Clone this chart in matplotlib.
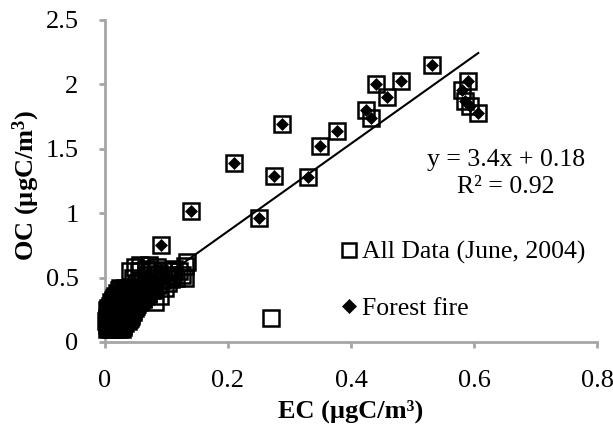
import matplotlib
matplotlib.use("Agg")
import matplotlib.pyplot as plt
import numpy as np

plt.rcParams['font.family'] = ['Liberation Serif', 'DejaVu Serif']
plt.rcParams['mathtext.fontset'] = 'custom'
plt.rcParams['mathtext.rm'] = 'Liberation Serif'
plt.rcParams['mathtext.bf'] = 'Liberation Serif:bold'

# Forest fire events (EC, OC)
fire_ec = [0.091, 0.140, 0.210, 0.250, 0.275, 0.288, 0.330, 0.350, 0.378,
           0.425, 0.432, 0.440, 0.458, 0.482, 0.532, 0.580, 0.591, 0.586,
           0.594, 0.606]
fire_oc = [0.75, 1.02, 1.39, 0.96, 1.29, 1.69, 1.28, 1.52, 1.64,
           1.80, 1.74, 2.00, 1.90, 2.03, 2.15, 1.96, 2.03, 1.87,
           1.83, 1.78]

# Low-concentration samples (dense cluster near the origin), part 1
low_ec = [0.003, 0.008, 0.013, 0.018, 0.022, 0.027,
          0.004, 0.009, 0.014, 0.019, 0.024, 0.029,
          0.002, 0.006, 0.011, 0.016, 0.021, 0.026, 0.031, 0.037,
          0.003, 0.008, 0.013, 0.018, 0.023, 0.028, 0.034, 0.040,
          0.005, 0.010, 0.015, 0.020, 0.025, 0.030, 0.036, 0.043,
          0.003, 0.007, 0.012, 0.017, 0.022, 0.027, 0.033, 0.039, 0.046,
          0.008, 0.013, 0.018, 0.024, 0.029, 0.035, 0.041, 0.050,
          0.010, 0.015, 0.021, 0.026, 0.032, 0.038, 0.045, 0.055,
          0.014, 0.019, 0.025, 0.031, 0.037, 0.044, 0.052, 0.062,
          0.020, 0.026, 0.033, 0.040, 0.048, 0.058, 0.070,
          0.025, 0.032, 0.039, 0.047, 0.056, 0.066, 0.080]
low_oc = [0.10, 0.10, 0.10, 0.10, 0.10, 0.10,
          0.13, 0.13, 0.13, 0.13, 0.13, 0.13,
          0.16, 0.16, 0.16, 0.16, 0.16, 0.16, 0.16, 0.16,
          0.19, 0.19, 0.19, 0.19, 0.19, 0.19, 0.19, 0.19,
          0.22, 0.22, 0.22, 0.22, 0.22, 0.22, 0.22, 0.22,
          0.25, 0.25, 0.25, 0.25, 0.25, 0.25, 0.25, 0.25, 0.25,
          0.28, 0.28, 0.28, 0.28, 0.28, 0.28, 0.28, 0.28,
          0.31, 0.31, 0.31, 0.31, 0.31, 0.31, 0.31, 0.31,
          0.34, 0.34, 0.34, 0.34, 0.34, 0.34, 0.34, 0.34,
          0.38, 0.38, 0.38, 0.38, 0.38, 0.38, 0.38,
          0.42, 0.42, 0.42, 0.42, 0.42, 0.42, 0.42]

# Low-concentration samples, part 2
low2_ec = [0.005, 0.010, 0.015, 0.020, 0.025, 0.030,
           0.006, 0.011, 0.016, 0.021, 0.027, 0.032,
           0.004, 0.008, 0.013, 0.018, 0.023, 0.029, 0.034, 0.039,
           0.005, 0.010, 0.015, 0.020, 0.026, 0.031, 0.037, 0.042,
           0.007, 0.012, 0.017, 0.022, 0.028, 0.033, 0.039, 0.045,
           0.005, 0.009, 0.014, 0.019, 0.025, 0.030, 0.036, 0.042, 0.048,
           0.011, 0.016, 0.021, 0.027, 0.032, 0.038, 0.044, 0.052,
           0.013, 0.018, 0.024, 0.029, 0.035, 0.041, 0.048, 0.058,
           0.017, 0.022, 0.028, 0.034, 0.040, 0.047, 0.055, 0.065,
           0.023, 0.029, 0.036, 0.043, 0.051, 0.061, 0.074]
low2_oc = [0.115, 0.115, 0.115, 0.115, 0.115, 0.115,
           0.145, 0.145, 0.145, 0.145, 0.145, 0.145,
           0.175, 0.175, 0.175, 0.175, 0.175, 0.175, 0.175, 0.175,
           0.205, 0.205, 0.205, 0.205, 0.205, 0.205, 0.205, 0.205,
           0.235, 0.235, 0.235, 0.235, 0.235, 0.235, 0.235, 0.235,
           0.265, 0.265, 0.265, 0.265, 0.265, 0.265, 0.265, 0.265, 0.265,
           0.295, 0.295, 0.295, 0.295, 0.295, 0.295, 0.295, 0.295,
           0.325, 0.325, 0.325, 0.325, 0.325, 0.325, 0.325, 0.325,
           0.36, 0.36, 0.36, 0.36, 0.36, 0.36, 0.36, 0.36,
           0.40, 0.40, 0.40, 0.40, 0.40, 0.40, 0.40]

# Other (non-fire) samples, June 2004
other_ec = [0.040, 0.045, 0.048, 0.050, 0.053, 0.055, 0.057, 0.060, 0.062,
            0.064, 0.066, 0.068, 0.070, 0.072, 0.074, 0.076, 0.078, 0.080,
            0.082, 0.084, 0.086, 0.088, 0.090, 0.092, 0.095, 0.097, 0.100,
            0.103, 0.105, 0.108, 0.110, 0.113, 0.116, 0.120, 0.125, 0.130,
            0.133, 0.130, 0.270]
other_oc = [0.55, 0.50, 0.58, 0.45, 0.38, 0.55, 0.60, 0.48, 0.33,
            0.42, 0.57, 0.52, 0.37, 0.60, 0.46, 0.55, 0.40, 0.50,
            0.31, 0.58, 0.44, 0.53, 0.36, 0.48, 0.56, 0.42, 0.51,
            0.46, 0.55, 0.49, 0.52, 0.57, 0.50, 0.55, 0.52, 0.59,
            0.62, 0.50, 0.19]

all_ec = low_ec + low2_ec + other_ec + fire_ec
all_oc = low_oc + low2_oc + other_oc + fire_oc

slope, intercept = 3.4, 0.18
fit_x = [0.0, 0.607]

x_ticks = [0, 0.2, 0.4, 0.6, 0.8]
y_ticks = [0, 0.5, 1, 1.5, 2, 2.5]
x_ticklabels = ['0', '0.2', '0.4', '0.6', '0.8']
y_ticklabels = ['0', '0.5', '1', '1.5', '2', '2.5']

W, H = 613, 442
fig = plt.figure(figsize=(W / 100, H / 100), dpi=100)
ax = fig.add_axes([105 / W, 1 - 342 / H, (597 - 105) / W, (342 - 20) / H])

ax.plot(all_ec, all_oc, linestyle='none', marker='s', ms=11,
        mfc='none', mec='black', mew=1.8, label='All Data (June, 2004)',
        zorder=3, clip_on=False)
ax.plot(fire_ec, fire_oc, linestyle='none', marker='D', ms=6.6,
        mfc='black', mec='black', mew=0.5, label='Forest fire', zorder=4,
        clip_on=False)
fx = np.array(fit_x)
ax.plot(fx, slope * fx + intercept, color='black', lw=1.5, zorder=5)

gray = '#a6a6a6'
ax.set_xlim(0, 0.8)
ax.set_ylim(0, 2.5)
ax.set_xticks(x_ticks)
ax.set_xticklabels(x_ticklabels)
ax.set_yticks(y_ticks)
ax.set_yticklabels(y_ticklabels)
ax.tick_params(axis='both', labelsize=19, color=gray, width=2,
               length=4, direction='out')
ax.tick_params(axis='x', pad=16)
ax.tick_params(axis='y', pad=15)
for s in ['top', 'right']:
    ax.spines[s].set_visible(False)
for s in ['left', 'bottom']:
    ax.spines[s].set_color(gray)
    ax.spines[s].set_linewidth(2)

fig.text(351 / W, 1 - 411 / H, 'EC (µgC/m³)', fontsize=19, fontweight='bold',
         ha='center', va='center')
fig.text(26 / W, 1 - 185 / H, 'OC (µgC/m$\\mathbf{^3}$)', fontsize=19,
         fontweight='bold', ha='center', va='center', rotation=90)

fig.text(506 / W, 1 - 160 / H, 'y = 3.4x + 0.18', fontsize=18.5,
         ha='center', va='center')
fig.text(506 / W, 1 - 187 / H, 'R² = 0.92', fontsize=18.5,
         ha='center', va='center')

leg = ax.legend(loc='center left', bbox_to_anchor=(339 / W, 1 - 280.5 / H),
                bbox_transform=fig.transFigure, frameon=False,
                fontsize=18.5, handletextpad=0.1, labelspacing=1.3,
                handlelength=0.8, borderaxespad=0, borderpad=0)
leg.legend_handles[0].set_markersize(10)
leg.legend_handles[1].set_markersize(7)

fig.savefig('out.png', dpi=100)
